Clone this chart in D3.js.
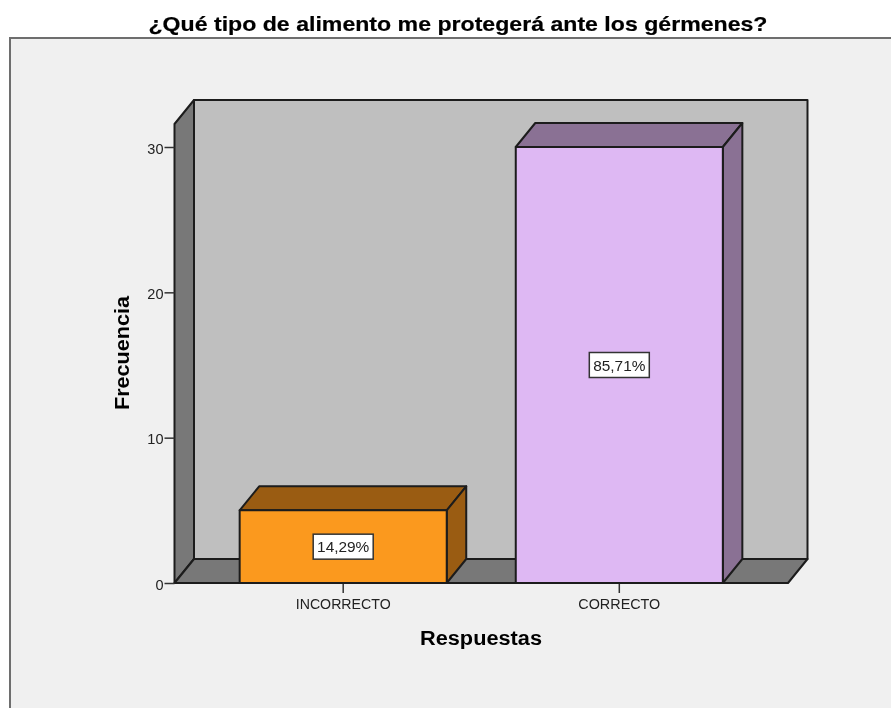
<!DOCTYPE html>
<html><head><meta charset="utf-8">
<script src="https://cdn.jsdelivr.net/npm/d3@7"></script>
<style>html,body{margin:0;padding:0;background:#fff;overflow:hidden}svg{display:block;filter:blur(.35px)}</style></head>
<body><div id="chart"></div>
<script>
const categories = ["INCORRECTO", "CORRECTO"];
const frequencies = [5, 30];
const percentLabels = ["14,29%", "85,71%"];
const tickValues = [0, 10, 20, 30];
const frontColors = ["#fb991e", "#deb8f3"];
const sideColors = ["#9a5c12", "#8a7194"];
const titleText = "¿Qué tipo de alimento me protegerá ante los gérmenes?";
const xTitle = "Respuestas";
const yTitle = "Frecuencia";

const W = 891, H = 708;
const svg = d3.select("#chart").append("svg").attr("width", W).attr("height", H);
const font = "'Liberation Sans', Arial, sans-serif";
const ink = "#1c1c1c";

// chart frame
svg.append("rect").attr("x", 10).attr("y", 38).attr("width", W + 10).attr("height", H)
  .attr("fill", "#f0f0f0").attr("stroke", "#6e6e6e").attr("stroke-width", 2);

const stretch = (sel, len) => sel.attr("textLength", len).attr("lengthAdjust", "spacingAndGlyphs");

stretch(svg.append("text").attr("x", 458).attr("y", 31).attr("text-anchor", "middle")
  .attr("font-family", font).attr("font-weight", 700).attr("font-size", 20.5).attr("fill", "#000")
  .attr("stroke", "#000").attr("stroke-width", 0.2)
  .text(titleText), 619);

const y = d3.scaleLinear().domain([0, 30]).range([583, 147]);
const x = d3.scaleBand().domain(categories).range([174.5, 788]).paddingInner(0.25).paddingOuter(0.236);
const dx = 19.5, dy = -24;
const plotTop = 124, plotL = 174.5, plotR = 788, base = y(0);
const poly = (pts, fill, sw = 2) => svg.append("polygon")
  .attr("points", pts.map(p => p.join(",")).join(" "))
  .attr("fill", fill).attr("stroke", ink).attr("stroke-width", sw).attr("stroke-linejoin", "round");

// 3D box walls
poly([[plotL + dx, plotTop + dy], [plotR + dx, plotTop + dy], [plotR + dx, base + dy], [plotL + dx, base + dy]], "#bfbfbf");
poly([[plotL, plotTop], [plotL + dx, plotTop + dy], [plotL + dx, base + dy], [plotL, base]], "#787878");
poly([[plotL, base], [plotL + dx, base + dy], [plotR + dx, base + dy], [plotR, base]], "#787878");

// axes
const yAxis = d3.axisLeft(y).tickValues(tickValues).tickSize(10).tickPadding(1).tickFormat(d3.format("d"));
const gy = svg.append("g").attr("transform", `translate(${plotL},0)`).call(yAxis);
gy.select(".domain").remove();
gy.selectAll("line").attr("stroke", "#333").attr("stroke-width", 1.5);
gy.selectAll("text").attr("font-family", font).attr("font-size", 14.5).attr("fill", "#222").attr("dy", "0.42em");

const xAxis = d3.axisBottom(x).tickSize(10).tickPadding(6);
const gx = svg.append("g").attr("transform", `translate(0,${base})`).call(xAxis);
gx.select(".domain").remove();
gx.selectAll("line").attr("stroke", "#333").attr("stroke-width", 1.5);
gx.selectAll("text").attr("font-family", font).attr("font-size", 14).attr("fill", "#222")
  .attr("textLength", (d, i) => [95, 82][i]).attr("lengthAdjust", "spacingAndGlyphs");

// bars
categories.forEach((c, i) => {
  const x0 = x(c), x1 = x0 + x.bandwidth(), yt = y(frequencies[i]);
  poly([[x0, yt], [x0 + dx, yt + dy], [x1 + dx, yt + dy], [x1, yt]], sideColors[i]);
  poly([[x1, yt], [x1 + dx, yt + dy], [x1 + dx, base + dy], [x1, base]], sideColors[i]);
  poly([[x0, yt], [x1, yt], [x1, base], [x0, base]], frontColors[i]);
  const cx = (x0 + x1) / 2, cy = (yt + base) / 2;
  svg.append("rect").attr("x", cx - 30).attr("y", cy - 12.5).attr("width", 60).attr("height", 25)
    .attr("fill", "#fff").attr("stroke", "#333").attr("stroke-width", 1.5);
  svg.append("text").attr("x", cx).attr("y", cy + 5.5).attr("text-anchor", "middle")
    .attr("font-family", font).attr("font-size", 15.4).attr("fill", "#222").text(percentLabels[i]);
});

// axis titles
stretch(svg.append("text").attr("x", 481).attr("y", 645).attr("text-anchor", "middle")
  .attr("font-family", font).attr("font-weight", 700).attr("font-size", 19.5)
  .attr("fill", "#000").text(xTitle), 122);
stretch(svg.append("text").attr("transform", "translate(129,353) rotate(-90)").attr("text-anchor", "middle")
  .attr("font-family", font).attr("font-weight", 700).attr("font-size", 19.5)
  .attr("fill", "#000").text(yTitle), 114);
</script></body></html>
